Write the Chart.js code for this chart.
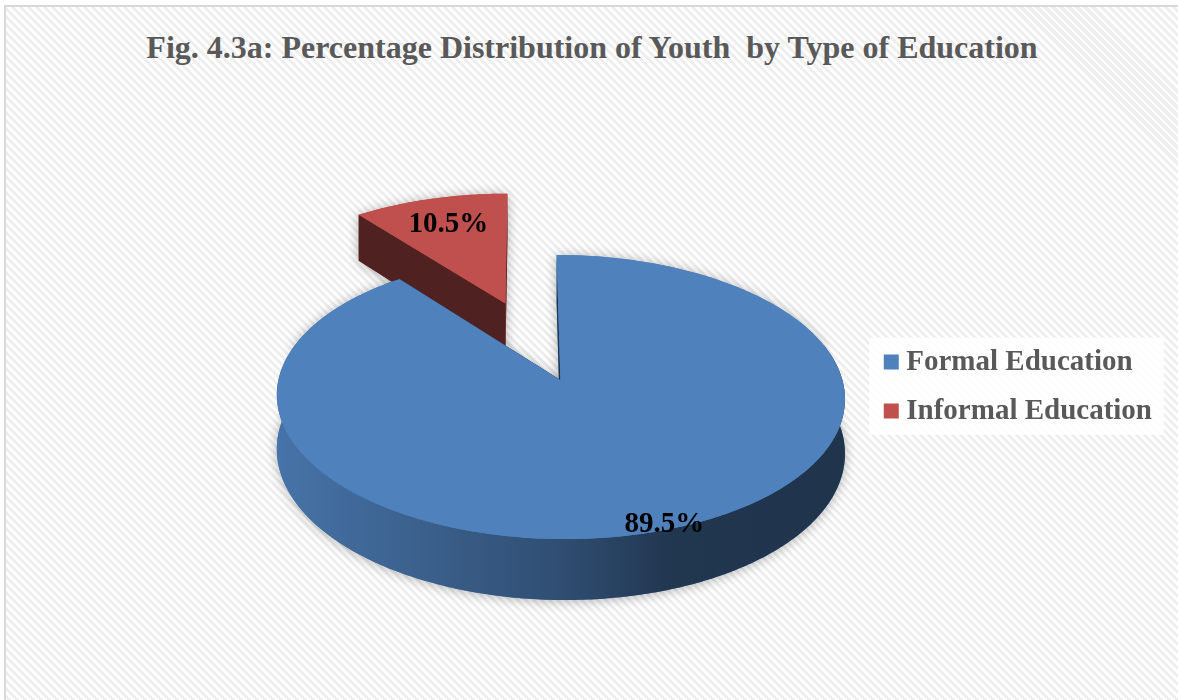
<!DOCTYPE html>
<html>
<head>
<meta charset="utf-8">
<script src="https://cdn.jsdelivr.net/npm/chart.js@4.4.1/dist/chart.umd.min.js"></script>
<style>
  html, body { margin: 0; padding: 0; width: 1178px; height: 700px; overflow: hidden; background: #fff; }
  .frame {
    position: absolute; left: 4px; top: 5px; width: 1300px; height: 800px;
    border: 2px solid #d9d9d9;
    background: repeating-linear-gradient(45deg, #ffffff 0px, #ffffff 2.8px, #eeeeee 2.8px, #eeeeee 5.66px);
  }
  h1 {
    position: absolute; left: 0; top: 31px; width: 1184px; margin: 0;
    text-align: center; white-space: pre;
    font: bold 32px/32px 'Liberation Serif', 'Times New Roman', serif; color: #595959;
  }
  canvas { position: absolute; left: 0; top: 0; }
</style>
</head>
<body>
<div class="frame"></div>
<h1>Fig. 4.3a: Percentage Distribution of Youth  by Type of Education</h1>
<canvas id="pie" width="1178" height="700"></canvas>
<script>
const categories = ['Formal Education', 'Informal Education'];
const shares = [89.5, 10.5];
const sliceColors = ['#4f81bd', '#c0504d'];

const serif = "'Liberation Serif', 'Times New Roman', serif";

function shade(hex, f) {
  const n = parseInt(hex.slice(1), 16);
  const c = [(n >> 16) & 255, (n >> 8) & 255, n & 255].map(v => Math.round(v * f));
  return `rgb(${c[0]},${c[1]},${c[2]})`;
}

// signed area, used to give every sub-path the same winding
function area(pts) {
  let s = 0;
  for (let k = 0; k < pts.length; k++) {
    const p = pts[k], q = pts[(k + 1) % pts.length];
    s += p[0] * q[1] - q[0] * p[1];
  }
  return s;
}

function addPoly(path, pts) {
  const list = area(pts) < 0 ? pts.slice().reverse() : pts;
  path.moveTo(list[0][0], list[0][1]);
  for (let k = 1; k < list.length; k++) path.lineTo(list[k][0], list[k][1]);
  path.closePath();
}

// white panel behind the legend items
const legendPanel = {
  id: 'legendPanel',
  beforeDraw(chart) {
    const boxes = chart.legend && chart.legend.legendHitBoxes;
    if (!boxes || !boxes.length) return;
    const half = chart.legend.options.labels.boxHeight / 2;
    const left = Math.min(...boxes.map(b => b.left)) - half - 14;
    const right = Math.max(...boxes.map(b => b.left + b.width)) + 12;
    const top = boxes[0].top - 10;
    const last = boxes[boxes.length - 1];
    const bottom = last.top + last.height + 9;
    const ctx = chart.ctx;
    ctx.save();
    ctx.fillStyle = 'rgba(255,255,255,0.85)';
    ctx.fillRect(left, top, right - left, bottom - top);
    ctx.restore();
  }
};

// draws the pie as a tilted, extruded disc in perspective, using the arc
// geometry that the pie controller computed
const pie3d = {
  id: 'pie3d',
  beforeDatasetsDraw(chart, args, opts) {
    const ctx = chart.ctx;
    const arcs = chart.getDatasetMeta(0).data;
    const values = chart.data.datasets[0].data;
    const cx = arcs[0].x, cy = arcs[0].y;
    const vx = cx + opts.vanish;
    const D = opts.depth;
    const proj = (wx, wy, wz) => {
      const g = 1 / (1 - wy / opts.dist);
      return [vx + (cx + wx - vx) * g, cy + (wy * opts.tilt + wz) * g];
    };

    const slices = arcs.map((arc, i) => {
      const a0 = arc.startAngle, a1 = arc.endAngle, R = arc.outerRadius;
      const mid = (a0 + a1) / 2;
      const ox = Math.cos(mid) * opts.explode[i];
      const oy = Math.sin(mid) * opts.explode[i];
      const rim = (a, z) => proj(ox + R * Math.cos(a), oy + R * Math.sin(a), z);
      const n = Math.max(2, Math.ceil((a1 - a0) / (Math.PI / 240)));
      const angles = Array.from({length: n + 1}, (_, k) => a0 + (a1 - a0) * k / n);

      // outer wall: only the part turned towards the viewer
      const runs = [];
      let run = [];
      for (const a of angles) {
        if (Math.sin(a) > -0.26) run.push(a);
        else if (run.length) { runs.push(run); run = []; }
      }
      if (run.length) runs.push(run);
      const walls = runs.filter(r => r.length > 1).map(r =>
        [...r.map(a => rim(a, 0)), ...r.slice().reverse().map(a => rim(a, D))]);

      const cuts = (a1 - a0 < 2 * Math.PI - 1e-6)
        ? [a0, a1].map(a => [proj(ox, oy, 0), rim(a, 0), rim(a, D), proj(ox, oy, D)])
        : [];
      const top = [proj(ox, oy, 0), ...angles.map(a => rim(a, 0))];

      // horizontal shading across the wall
      const xs = opts.wallShade.map(([deg]) => rim(deg * Math.PI / 180, D / 2)[0]);
      const color = arc.options.backgroundColor;
      const x0 = xs[0], x1 = xs[xs.length - 1];
      const grad = ctx.createLinearGradient(x0, 0, x1, 0);
      opts.wallShade.forEach(([, f], k) => grad.addColorStop((xs[k] - x0) / (x1 - x0), shade(color, f)));

      const lr = opts.labelAt[i] * R;
      const label = proj(ox + lr * Math.cos(mid), oy + lr * Math.sin(mid), 0);
      return { i, color, grad, walls, cuts, top, label, depth: oy + Math.sin(mid) * R / 2 };
    });

    const order = slices.slice().sort((a, b) => a.depth - b.depth);

    // soft drop shadow under each slice
    for (const s of order) {
      const p = new Path2D();
      [s.top, ...s.walls, ...s.cuts].forEach(poly => addPoly(p, poly));
      ctx.save();
      ctx.shadowColor = 'rgba(0,0,0,0.3)';
      ctx.shadowBlur = 12;
      ctx.shadowOffsetY = 1;
      ctx.fillStyle = s.color;
      ctx.fill(p);
      ctx.restore();
    }

    for (const s of order) {
      for (const c of s.cuts) {
        const p = new Path2D();
        addPoly(p, c);
        ctx.fillStyle = shade(s.color, opts.cutShade);
        ctx.fill(p);
      }
      for (const w of s.walls) {
        const p = new Path2D();
        addPoly(p, w);
        ctx.fillStyle = s.grad;
        ctx.fill(p);
      }
      const p = new Path2D();
      addPoly(p, s.top);
      ctx.fillStyle = s.color;
      ctx.fill(p);
    }

    ctx.save();
    ctx.font = `bold 29px ${serif}`;
    ctx.fillStyle = '#000';
    ctx.textAlign = 'center';
    ctx.textBaseline = 'middle';
    for (const s of slices) {
      ctx.fillText(values[s.i].toFixed(1) + '%', s.label[0], s.label[1]);
    }
    ctx.restore();
    return false;
  }
};

new Chart(document.getElementById('pie'), {
  type: 'pie',
  data: {
    labels: categories,
    datasets: [{
      data: shares,
      backgroundColor: sliceColors,
      borderWidth: 0
    }]
  },
  options: {
    responsive: false,
    animation: false,
    events: [],
    radius: 282,
    layout: { padding: { left: 250, right: 16, top: 90, bottom: 30 } },
    plugins: {
      tooltip: { enabled: false },
      title: { display: false },
      legend: {
        position: 'right',
        // empty title only used as a spacer, nudges the items down a little
        title: { display: true, text: '', padding: 0, font: { size: 11 } },
        labels: {
          usePointStyle: true,
          pointStyle: 'rect',
          boxWidth: 1,
          boxHeight: 15,
          padding: 20,
          color: '#595959',
          font: { family: serif, size: 29, weight: 'bold' }
        }
      },
      pie3d: {
        tilt: 0.4965,
        dist: 2350,
        depth: 53.6,
        vanish: -35,
        explode: [0, 174],
        labelAt: [0.97, 0.74],
        cutShade: 0.41,
        wallShade: [[180, 0.89], [125, 0.78], [90, 0.6], [70, 0.42], [0, 0.4]]
      }
    }
  },
  plugins: [legendPanel, pie3d]
});
</script>
</body>
</html>
